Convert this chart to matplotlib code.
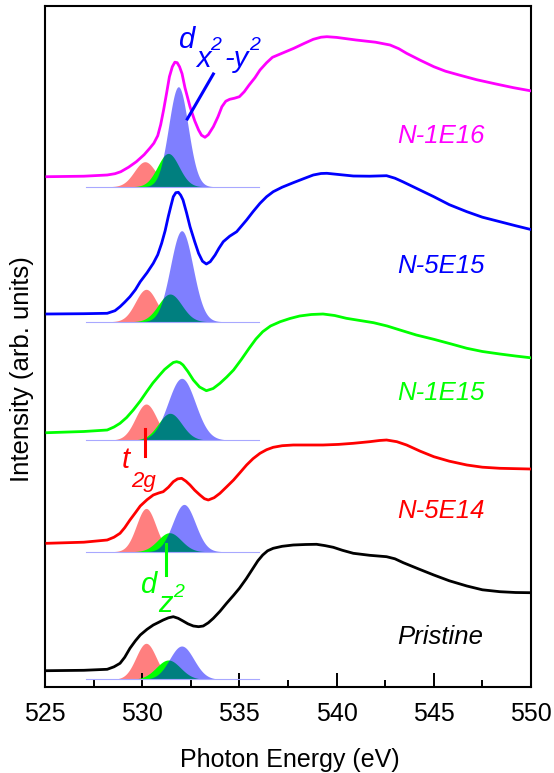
import numpy as np
import matplotlib.pyplot as plt

plt.rcParams['font.family'] = ['Liberation Sans', 'DejaVu Sans']

# --- O K-edge spectra, heights above each trace's fit baseline (arb. units) ---
e_1e16 = [525.1, 527.0, 528.2, 528.6, 528.9, 529.3, 529.7, 530.1, 530.4, 530.6,
          530.8, 530.95, 531.1, 531.25, 531.4, 531.55, 531.68, 531.8, 531.92, 532.05,
          532.2, 532.46, 532.7, 532.9, 533.05, 533.23, 533.4, 533.66, 533.9, 534.1,
          534.3, 534.5, 534.75, 535.0, 535.25, 535.5, 535.8, 536.06, 536.4, 536.7,
          537.2, 537.8, 538.3, 538.8, 539.2, 539.5, 540.0, 541.0, 542.0, 542.75,
          543.2, 543.6, 544.3, 545.0, 545.6, 546.3, 547.2, 548.2, 549.1, 549.95]
i_1e16 = [10, 10.5, 11.7, 13, 15, 19.5, 25, 32, 38.7, 43.5,
          51, 62, 76.7, 93, 110, 120, 124.5, 124, 120, 113,
          99, 80, 66, 56.7, 51.5, 49.4, 52, 60, 70, 80,
          85.5, 87.4, 88.5, 90, 95, 101.7, 109, 116.7, 124, 129.4,
          133.5, 138.4, 143, 147.4, 149.5, 150, 149.3, 146.7, 144.5, 141.7,
          138, 133.4, 126.5, 120, 115.5, 111.7, 107, 102.7, 99, 96]

e_5e15 = [525.1, 527.0, 528.2, 528.6, 528.86, 529.1, 529.37, 529.65, 529.9, 530.25,
          530.57, 530.8, 531.0, 531.18, 531.34, 531.48, 531.6, 531.73, 531.86, 531.98,
          532.1, 532.28, 532.46, 532.7, 532.9, 533.1, 533.3, 533.5, 533.75, 533.95,
          534.17, 534.5, 534.86, 535.1, 535.37, 535.7, 536.06, 536.4, 536.74, 537.2,
          537.77, 538.3, 538.8, 539.2, 539.5, 540.2, 540.86, 541.7, 542.57, 543.0,
          543.4, 544.2, 545.0, 545.8, 546.7, 547.5, 548.4, 549.2, 549.95]
i_5e15 = [7.7, 8, 8.4, 11, 15, 19.5, 25, 32, 40, 49,
          58.4, 67, 78.4, 91, 105, 116, 125, 129, 129.4, 126.5,
          121.7, 109, 95, 80, 68.4, 60.5, 57.7, 60, 66.7, 73.5,
          80, 85.5, 90, 95.5, 101.7, 110, 118.4, 125, 130, 134.5,
          139, 143, 146.7, 148.2, 148.4, 147, 145.7, 145.5, 146, 143.5,
          140, 132.5, 125, 117, 110, 104.5, 100, 96, 92.4]

e_1e15 = [525.1, 527.0, 528.2, 528.55, 528.86, 529.2, 529.54, 529.9, 530.23, 530.55,
          530.9, 531.15, 531.43, 531.6, 531.77, 531.95, 532.1, 532.35, 532.63, 532.95,
          533.3, 533.65, 534.0, 534.35, 534.7, 535.1, 535.5, 535.85, 536.2, 536.6,
          537.1, 537.6, 538.1, 538.7, 539.3, 539.9, 540.5, 541.2, 541.9, 542.6,
          543.26, 544.1, 545.0, 545.9, 546.7, 547.5, 548.4, 549.2, 549.95]
i_1e15 = [7.3, 8.5, 10, 13, 16.7, 22.5, 30, 39, 48.3, 57,
          65, 70.5, 75, 77.5, 78.3, 77.3, 75, 68.5, 60, 53,
          49.3, 51.5, 56.7, 63, 70, 80.5, 91.7, 101, 108.3, 114,
          118.3, 121.5, 124, 125.5, 126, 124.5, 121.7, 119.5, 117.3, 114,
          110, 105, 100.7, 96, 91.7, 88.5, 86, 84, 82.3]

e_5e14 = [525.1, 527.0, 528.2, 528.55, 528.86, 529.1, 529.37, 529.65, 529.9, 530.25,
          530.57, 530.85, 531.08, 531.35, 531.6, 531.82, 532.03, 532.25, 532.46, 532.7,
          532.97, 533.2, 533.4, 533.7, 534.0, 534.35, 534.7, 535.05, 535.37, 535.7,
          536.06, 536.4, 536.74, 537.2, 537.77, 538.5, 539.3, 540.1, 540.86, 541.7,
          542.2, 542.57, 543.1, 543.6, 544.3, 545.0, 545.8, 546.7, 547.5, 548.4,
          549.95]
i_5e14 = [8.4, 9.5, 11.7, 14.5, 18.4, 24, 31.7, 39, 45.7, 52,
          56.7, 58.7, 60, 64.5, 70, 72.8, 73.4, 70.5, 66.7, 61.5,
          56.7, 53, 51.7, 54, 58.4, 65, 71.7, 79.5, 86.7, 93,
          98.4, 102, 104.4, 106, 106.7, 106.7, 106.7, 107.3, 108.4, 110,
          111.2, 111.7, 110, 106.7, 100.5, 95, 90.5, 86.7, 84.5, 83.4,
          82.7]

e_pristine = [525.1, 527.0, 528.2, 528.55, 528.86, 529.1, 529.37, 529.65, 529.9, 530.25,
              530.57, 530.85, 531.08, 531.35, 531.6, 531.85, 532.1, 532.35, 532.63, 532.9,
              533.14, 533.4, 533.66, 534.0, 534.34, 534.7, 535.0, 535.35, 535.7, 535.95,
              536.2, 536.45, 536.74, 537.2, 537.77, 538.4, 538.97, 539.4, 539.83, 540.3,
              540.86, 541.7, 542.57, 543.0, 543.43, 544.2, 545.0, 545.8, 546.7, 547.5,
              548.4, 549.2, 549.95]
i_pristine = [8.6, 9, 10, 12.5, 16, 22, 31, 38.5, 44.3, 50,
              54.3, 57, 59.3, 61.5, 62.6, 61, 58.3, 55.5, 53.3, 52.6,
              53.3, 56.5, 61, 68, 76, 84, 91, 100.5, 111, 118.5,
              124.3, 128.5, 131, 133, 134.3, 134.8, 135, 133.7, 132, 129,
              126, 124, 122.6, 120.5, 116.6, 110.5, 104.3, 98.5, 93.3, 89.5,
              87.6, 86.8, 86.6]

labels = ['N-1E16', 'N-5E15', 'N-1E15', 'N-5E14', 'Pristine']
colors = ['#ff00ff', '#0000ff', '#00ff00', '#ff0000', '#000000']
offsets = [500.3, 365.3, 247.0, 135.3, 7.7]
label_y = [551, 421, 293.5, 176, 50]

# --- Gaussian fit components: (center eV, height, sigma) ---
t2g = [(530.14, 25, 0.55), (530.2, 32.4, 0.55), (530.2, 36, 0.55),
       (530.2, 43.3, 0.5), (530.2, 36, 0.52)]
dz2 = [(531.34, 33.3, 0.55), (531.43, 27.7, 0.6), (531.43, 26.7, 0.6),
       (531.4, 19, 0.6), (531.34, 19.3, 0.62)]
dx2y2 = [(531.86, 100, 0.5), (532.03, 91, 0.58), (532.03, 61.7, 0.7),
         (532.15, 47.3, 0.58), (532.03, 33.3, 0.62)]

energies = [e_1e16, e_5e15, e_1e15, e_5e14, e_pristine]
intensities = [i_1e16, i_5e15, i_1e15, i_5e14, i_pristine]


def gauss(x, c, h, s):
    return h * np.exp(-0.5 * ((x - c) / s) ** 2)


fig = plt.figure(figsize=(5.54, 7.73), dpi=100)
ax = fig.add_axes([45 / 554, 86 / 773, 486 / 554, 681 / 773])

xg = np.linspace(527.1, 536.0, 400)
for k in range(5):
    base = offsets[k]
    ax.fill_between(xg, base, base + gauss(xg, *t2g[k]), color='#ff0000',
                    alpha=0.5, lw=0, zorder=1)
    ax.fill_between(xg, base, base + gauss(xg, *dz2[k]), color='#00ff00',
                    lw=0, zorder=2)
    ax.fill_between(xg, base, base + gauss(xg, *dx2y2[k]), color='#0000ff',
                    alpha=0.5, lw=0, zorder=3)
    ax.plot([527.1, 536.0], [base, base], color='#a8a8ff', lw=0.8, zorder=3)

    ax.plot(energies[k], np.array(intensities[k]) + base, color=colors[k],
            lw=2.0, zorder=5)
    ax.text(543.1, label_y[k], labels[k], color=colors[k], fontsize=18.5,
            style='italic', va='center', ha='left')

# annotations
big, small = 21, 14
ax.text(531.85, 639, 'd', color='#0000ff', fontsize=big, style='italic')
ax.text(532.8, 620, 'x', color='#0000ff', fontsize=big, style='italic')
ax.text(533.5, 637, '2', color='#0000ff', fontsize=small, style='italic')
ax.text(534.25, 620, '-y', color='#0000ff', fontsize=big, style='italic')
ax.text(535.5, 637, '2', color='#0000ff', fontsize=small, style='italic')
ax.plot([533.66, 532.32], [613, 568], color='#0000ff', lw=2.2, zorder=6)

ax.text(528.95, 219, 't', color='#ff0000', fontsize=big, style='italic')
ax.text(529.45, 200, '2g', color='#ff0000', fontsize=16, style='italic')
ax.plot([530.14, 530.14], [258, 231], color='#ff0000', lw=2.2, zorder=6)

ax.text(529.9, 94, 'd', color='#00ff00', fontsize=big, style='italic')
ax.text(530.8, 75, 'z', color='#00ff00', fontsize=big, style='italic')
ax.text(531.58, 90, '2', color='#00ff00', fontsize=small, style='italic')
ax.plot([531.22, 531.22], [143, 112], color='#00ff00', lw=2.2, zorder=6)

ax.set_xlim(525, 550)
ax.set_ylim(0, 681)
ax.set_xticks(np.arange(525, 551, 5))
ax.set_xticks(np.arange(527.5, 550, 5), minor=True)
ax.tick_params(axis='x', which='both', direction='in', width=1.4,
               labelsize=18, pad=11)
ax.tick_params(axis='x', which='major', length=10)
ax.tick_params(axis='x', which='minor', length=5)
ax.set_yticks([])
for sp in ax.spines.values():
    sp.set_linewidth(1.5)

fig.text(290 / 554, 1 - 760 / 773, 'Photon Energy (eV)', fontsize=18,
         ha='center', va='center')
fig.text(22 / 554, 1 - 369 / 773, 'Intensity (arb. units)', fontsize=18.5,
         rotation=90, ha='center', va='center')

fig.savefig('out.png', dpi=100)
